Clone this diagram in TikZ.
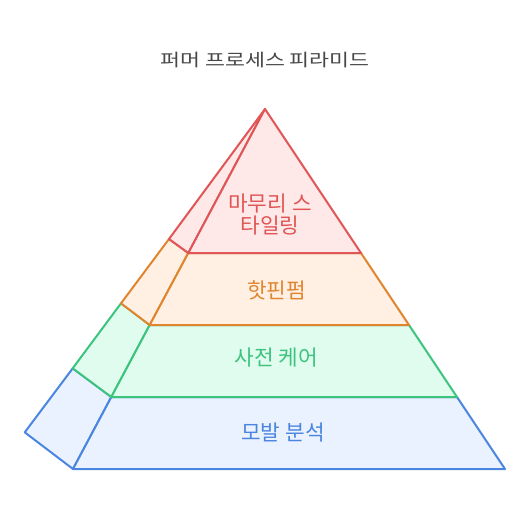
\documentclass[tikz,border=0pt]{standalone}
\usepackage{fontspec}
\newfontfamily\kr{Noto Sans CJK KR}
\newfontfamily\krw[FakeStretch=1.25]{Noto Sans CJK KR}
\definecolor{redS}{HTML}{E05555}
\definecolor{redF}{HTML}{FFE8E8}
\definecolor{orS}{HTML}{E0852E}
\definecolor{orF}{HTML}{FFF0E3}
\definecolor{grS}{HTML}{3CC47F}
\definecolor{grF}{HTML}{E0FCEE}
\definecolor{blS}{HTML}{4A85E0}
\definecolor{blF}{HTML}{EBF2FF}
\definecolor{titleC}{HTML}{474747}
\begin{document}
\begin{tikzpicture}[x=0.75pt,y=-0.75pt,
  face/.style={line width=1.5pt,line join=round},
  lbl/.style={font=\kr\fontsize{16}{17}\selectfont,align=center}]
\useasboundingbox (0,0) rectangle (530,519);
% coordinates
\coordinate (A) at (265,109);
\coordinate (r1) at (188.3,253); \coordinate (r2) at (361,253); \coordinate (rb) at (169,239);
\coordinate (o1) at (149.7,325); \coordinate (o2) at (409,325); \coordinate (ob) at (121,303.3);
\coordinate (g1) at (111.3,397); \coordinate (g2) at (457,397); \coordinate (gb) at (72.7,368.3);
\coordinate (b1) at (73,469); \coordinate (b2) at (505,469); \coordinate (bb) at (24.7,432.3);
% blue
\draw[face,draw=blS,fill=blF] (g1) -- (gb) -- (bb) -- (b1) -- cycle;
\draw[face,draw=blS,fill=blF] (g1) -- (g2) -- (b2) -- (b1) -- cycle;
% green
\draw[face,draw=grS,fill=grF] (o1) -- (ob) -- (gb) -- (g1) -- cycle;
\draw[face,draw=grS,fill=grF] (o1) -- (o2) -- (g2) -- (g1) -- cycle;
% orange
\draw[face,draw=orS,fill=orF] (r1) -- (rb) -- (ob) -- (o1) -- cycle;
\draw[face,draw=orS,fill=orF] (r1) -- (r2) -- (o2) -- (o1) -- cycle;
% red
\draw[face,draw=redS,fill=redF] (A) -- (rb) -- (r1) -- cycle;
\draw[face,draw=redS,fill=redF] (A) -- (r2) -- (r1) -- cycle;
% labels
\node[lbl,text=redS] (t1) at (270,214.5) {마무리 스\\타일링};
\node[lbl,text=orS] (t2) at (276.5,290) {핫핀펌};
\node[lbl,text=grS] (t3) at (276.5,358) {사전 케어};
\node[lbl,text=blS] (t4) at (283,432) {모발 분석};
\node[font=\krw\fontsize{13}{15}\selectfont,text=titleC] (title) at (265,60) {퍼머 프로세스 피라미드};
\end{tikzpicture}
\end{document}
